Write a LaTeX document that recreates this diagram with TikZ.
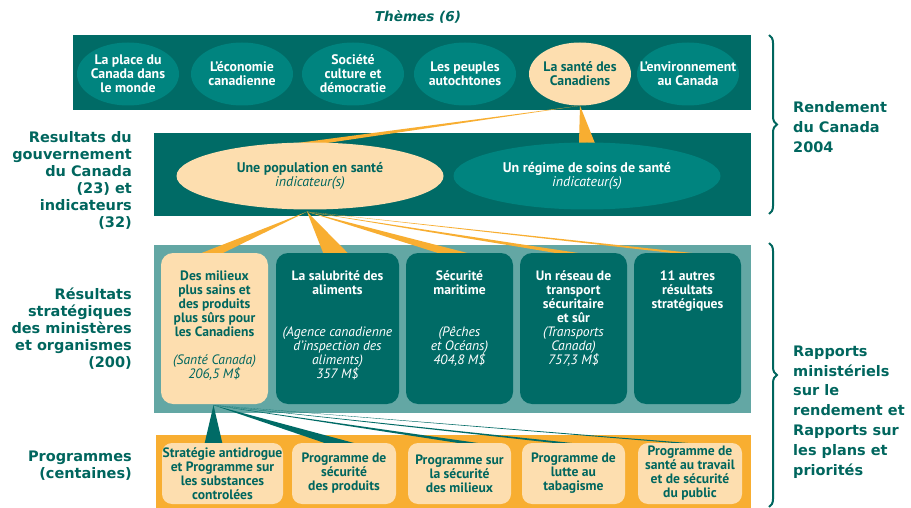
\documentclass[tikz,border=0pt]{standalone}
\usepackage{fontspec}
\setmainfont{PT Sans}
\newfontfamily\labfont{DejaVu Sans}
\usetikzlibrary{shapes.geometric,calc,decorations.pathreplacing}
\definecolor{tdark}{HTML}{006B66}
\definecolor{tmid}{HTML}{00847F}
\definecolor{peach}{HTML}{FDDEAF}
\definecolor{orng}{HTML}{F8AE31}
\definecolor{tlight}{HTML}{63A7A4}
\definecolor{ttext}{HTML}{00665E}
\pgfdeclarelayer{back}
\pgfdeclarelayer{mid}
\pgfsetlayers{back,mid,main}
\tikzset{
  band/.style={draw=none, inner sep=0pt, anchor=north west},
  theme/.style={ellipse, fill=tmid, minimum width=102pt, minimum height=63pt, inner sep=0pt},
  themehi/.style={theme, fill=peach},
  themetxt/.style={inner sep=0pt, align=center, text=white, font=\bfseries\fontsize{13.8}{14}\selectfont},
  themetxthi/.style={themetxt, text=ttext},
  goal/.style={ellipse, fill=tmid, minimum width=267pt, minimum height=67pt, inner sep=0pt, align=center, text=white, font=\fontsize{14}{14}\selectfont},
  goalhi/.style={goal, fill=peach, text=ttext},
  sbox/.style={rectangle, rounded corners=12pt, fill=tdark, minimum height=151pt, inner sep=0pt},
  sboxhi/.style={sbox, fill=peach},
  stext/.style={anchor=north, inner sep=0pt, align=center, text=white, font=\fontsize{13.6}{14}\selectfont},
  pbox/.style={rectangle, rounded corners=10pt, fill=peach, minimum height=61pt, inner sep=0pt, align=center, text=ttext, font=\bfseries\fontsize{13.6}{14}\selectfont},
  sidelab/.style={inner sep=0pt, text=ttext, font=\labfont\bfseries\fontsize{14.5}{17}\selectfont},
  brc/.style={draw=ttext, line width=2pt, decorate, decoration={brace, amplitude=8pt}},
  owedge/.style={fill=orng},
  twedge/.style={fill=tdark}
}
\begin{document}
\begin{tikzpicture}[x=1pt,y=-1pt]
\useasboundingbox (0,0) rectangle (911,508);

\begin{pgfonlayer}{back}
\fill[white] (0,0) rectangle (911,508);
\node[band, fill=tdark, minimum width=678pt, minimum height=75pt] (b1) at (73,35) {};
\node[band, fill=tdark, minimum width=597pt, minimum height=83pt] (b2) at (154,133) {};
\node[band, fill=tlight, minimum width=597pt, minimum height=168pt] (b3) at (154,245) {};
\node[band, fill=orng, minimum width=595pt, minimum height=73pt] (b4) at (156,435) {};
\end{pgfonlayer}

% title
\node[text=ttext, font=\labfont\bfseries\itshape\fontsize{13.6}{15}\selectfont] (title) at (418,17) {Thèmes (6)};

% themes
\node[theme] (th1) at (128,74) {};
\node[theme] (th2) at (242,74) {};
\node[theme] (th3) at (353,74) {};
\node[theme] (th4) at (465,74) {};
\node[themehi] (th5) at (580,74) {};
\node[theme] (th6) at (688,74) {};
\node[themetxt] (th1t) at (th1) {La place du\\Canada dans\\le monde};
\node[themetxt] (th2t) at (th2) {L’économie\\canadienne};
\node[themetxt] (th3t) at (th3) {Société\\culture et\\démocratie};
\node[themetxt] (th4t) at (th4) {Les peuples\\autochtones};
\node[themetxthi] (th5t) at (th5) {La santé des\\Canadiens};
\node[themetxt] (th6t) at (th6) {L’environnement\\au Canada};

% goals
\node[goalhi] (pop) at (310,176) {\textbf{Une population en santé}\\\textit{indicateur(s)}};
\node[goal] (reg) at (587,176) {\textbf{Un régime de soins de santé}\\\textit{indicateur(s)}};

% strategic outcome boxes
\node[sboxhi, minimum width=107pt] (s1) at (214.5,328.5) {};
\node[sbox, minimum width=123pt] (s2) at (337.5,328.5) {};
\node[sbox, minimum width=107pt] (s3) at (459.5,328.5) {};
\node[sbox, minimum width=107pt] (s4) at (573.5,328.5) {};
\node[sbox, minimum width=107pt] (s5) at (687.5,328.5) {};

\node[stext, text=ttext] (s1t) at ($(s1.north)+(0,18)$) {\textbf{Des milieux}\\\textbf{plus sains et}\\\textbf{des produits}\\\textbf{plus sûrs pour}\\\textbf{les Canadiens}\\[14pt]\textit{(Santé Canada)}\\\textit{206,5 M\$}};
\node[stext] (s2t) at ($(s2.north)+(0,18)$) {\textbf{La salubrité des}\\\textbf{aliments}\\[28pt]\textit{(Agence canadienne}\\\textit{d’inspection des}\\\textit{aliments)}\\\textit{357 M\$}};
\node[stext] (s3t) at ($(s3.north)+(0,18)$) {\textbf{Sécurité}\\\textbf{maritime}\\[28pt]\textit{(Pêches}\\\textit{et Océans)}\\\textit{404,8 M\$}};
\node[stext] (s4t) at ($(s4.north)+(0,18)$) {\textbf{Un réseau de}\\\textbf{transport}\\\textbf{sécuritaire}\\\textbf{et sûr}\\\textit{(Transports}\\\textit{Canada)}\\\textit{757,3 M\$}};
\node[stext] (s5t) at ($(s5.north)+(0,18)$) {\textbf{11 autres}\\\textbf{résultats}\\\textbf{stratégiques}};

% program boxes
\node[pbox, minimum width=121pt] (p1) at (222.5,473.5) {Stratégie antidrogue\\et Programme sur\\les substances\\controlées};
\node[pbox, minimum width=104pt] (p2) at (344,473.5) {Programme de\\sécurité\\des produits};
\node[pbox, minimum width=103pt] (p3) at (459.5,473.5) {Programme sur\\la sécurité\\des milieux};
\node[pbox, minimum width=103pt] (p4) at (573.5,473.5) {Programme de\\lutte au\\tabagisme};
\node[pbox, minimum width=104pt] (p5) at (690,473.5) {Programme de\\santé au travail\\et de sécurité\\du public};

% wedges
\begin{pgfonlayer}{mid}
\fill[owedge] (th5.south) -- ($(pop.north)+(-15,1)$) -- ($(pop.north)+(15,1)$) -- cycle;
\fill[owedge] (th5.south) -- ($(reg.north)+(-8,1)$) -- ($(reg.north)+(8,1)$) -- cycle;
\coordinate (ftip) at ($(pop.south)+(-3,2)$);
\fill[owedge] (ftip) -- ($(s1.north)+(-15,1)$) -- ($(s1.north)+(7,1)$) -- cycle;
\fill[owedge] (ftip) -- ($(s2.north)+(-14,1)$) -- ($(s2.north)+(11,1)$) -- cycle;
\fill[owedge] (ftip) -- ($(s3.north)+(-19,1)$) -- ($(s3.north)+(11,1)$) -- cycle;
\fill[owedge] (ftip) -- ($(s4.north)+(-13,1)$) -- ($(s4.north)+(10,1)$) -- cycle;
\fill[owedge] (ftip) -- ($(s5.north)+(-8,1)$) -- ($(s5.north)+(12,1)$) -- cycle;
\coordinate (ttip) at ($(s1.south)+(-1,1)$);
\fill[twedge] (ttip) -- ($(ttip |- p1.north)+(-9,1)$) -- ($(ttip |- p1.north)+(9,1)$) -- cycle;
\fill[twedge] (ttip) -- ($(p2.north)+(-17,1)$) -- ($(p2.north)+(13,1)$) -- cycle;
\fill[twedge] (ttip) -- ($(p3.north)+(4,1)$) -- ($(p3.north)+(24,1)$) -- cycle;
\fill[twedge] (ttip) -- ($(p4.north)+(-12,1)$) -- ($(p4.north)+(6,1)$) -- cycle;
\fill[twedge] (ttip) -- ($(p5.north)+(-6,1)$) -- ($(p5.north)+(8,1)$) -- cycle;
\end{pgfonlayer}

% side labels
\node[sidelab, align=right, anchor=east] (l1) at (132,180) {Resultats du\\gouvernement\\du Canada\\(23) et\\indicateurs\\(32)};
\node[sidelab, align=right, anchor=east] (l2) at (132,329) {Résultats\\stratégiques\\des ministères\\et organismes\\(200)};
\node[sidelab, align=right, anchor=east] (l3) at (132,466) {Programmes\\(centaines)};

% braces
\coordinate (br1a) at (769,35);
\coordinate (br1b) at (769,214);
\coordinate (br2a) at (769,243);
\coordinate (br2b) at (769,507);
\draw[brc] (br1a) -- (br1b);
\draw[brc] (br2a) -- (br2b);
\node[sidelab, align=left, anchor=west, font=\labfont\bfseries\fontsize{14.5}{19.7}\selectfont] (r1) at (793,127) {Rendement\\du Canada\\2004};
\node[sidelab, align=left, anchor=west, font=\labfont\bfseries\fontsize{14.5}{19.8}\selectfont] (r2) at (793,412) {Rapports\\ministériels\\sur le\\rendement et\\Rapports sur\\les plans et\\priorités};
\end{tikzpicture}
\end{document}
